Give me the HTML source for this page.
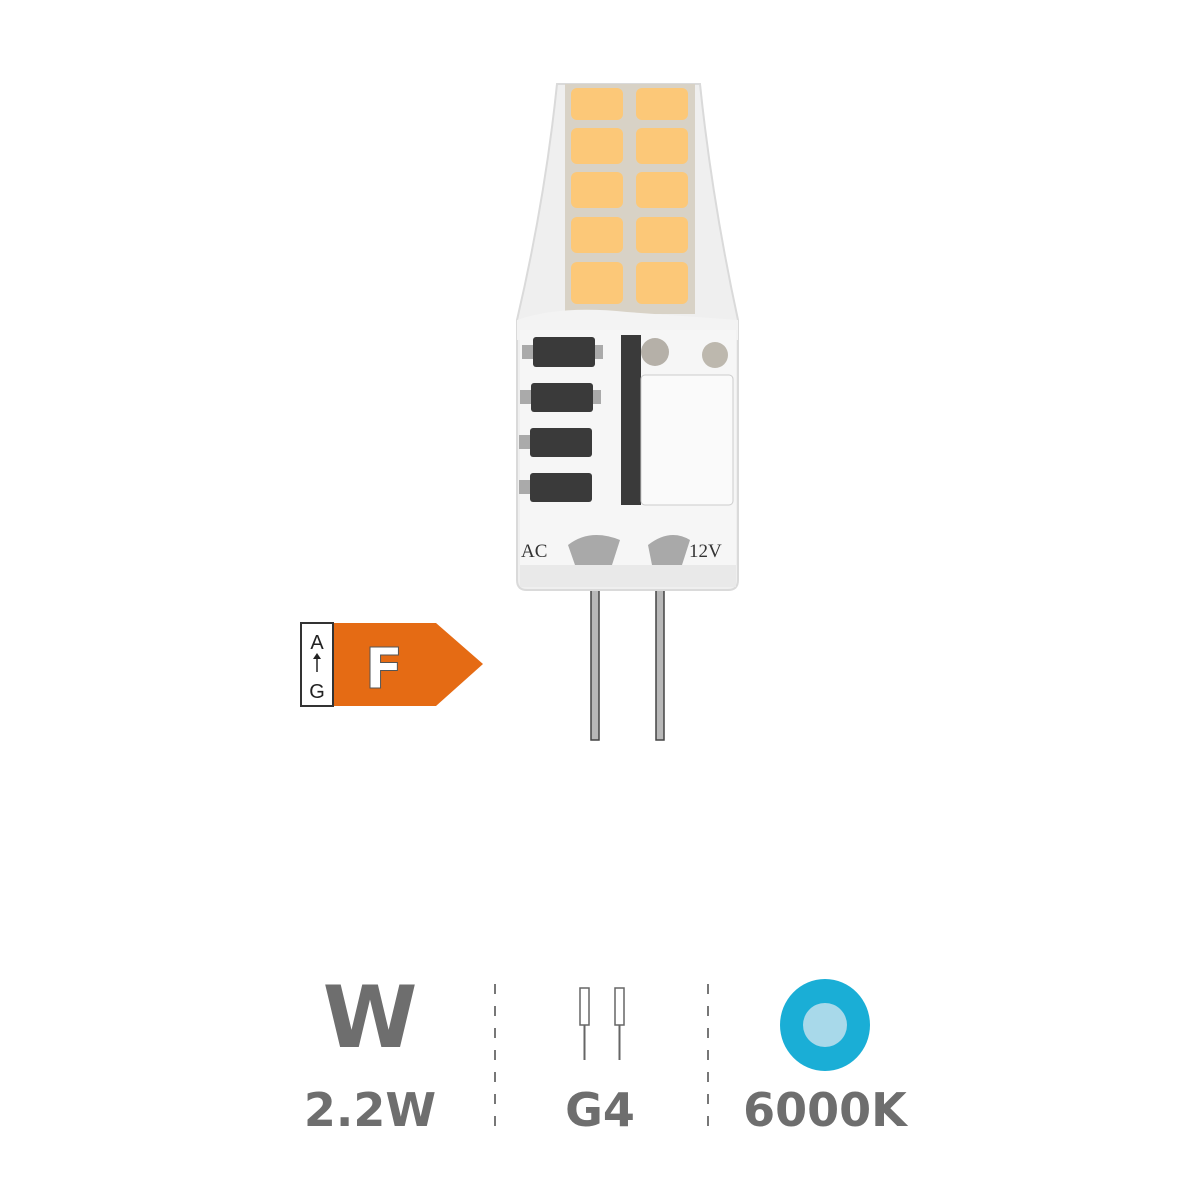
<!DOCTYPE html>
<html><head><style>
html,body{margin:0;padding:0;background:#fff;}
body{width:1200px;height:1200px;position:relative;overflow:hidden;font-family:"DejaVu Sans","Liberation Sans",sans-serif;}
.t{position:absolute;color:#6e6e6e;font-weight:bold;text-align:center;}
</style></head><body>
<svg width="1200" height="1200" style="position:absolute;left:0;top:0">
<rect x="591" y="570" width="8" height="170" fill="#b8b8b8" stroke="#444" stroke-width="1.5"/>
<rect x="656" y="570" width="8" height="170" fill="#b8b8b8" stroke="#444" stroke-width="1.5"/>
<path d="M557,84 L700,84 Q712,200 738,320 L738,580 Q738,590 728,590 L527,590 Q517,590 517,580 L517,320 Q545,200 557,84 Z" fill="#efefef" stroke="#dadada" stroke-width="2"/>
<rect x="565" y="84" width="130" height="230" fill="#d8d2c6"/>
<g fill="#fcc878">
<rect x="571" y="88" width="52" height="32" rx="6"/><rect x="636" y="88" width="52" height="32" rx="6"/>
<rect x="571" y="128" width="52" height="36" rx="6"/><rect x="636" y="128" width="52" height="36" rx="6"/>
<rect x="571" y="172" width="52" height="36" rx="6"/><rect x="636" y="172" width="52" height="36" rx="6"/>
<rect x="571" y="217" width="52" height="36" rx="6"/><rect x="636" y="217" width="52" height="36" rx="6"/>
<rect x="571" y="262" width="52" height="42" rx="6"/><rect x="636" y="262" width="52" height="42" rx="6"/>
</g>
<path d="M517,320 Q560,305 627,312 L738,320 L738,340 L517,340 Z" fill="#f3f3f3"/>
<rect x="520" y="330" width="216" height="250" fill="#f6f6f6"/>
<g fill="#3a3a3a">
<rect x="533" y="337" width="62" height="30" rx="3"/>
<rect x="531" y="383" width="62" height="29" rx="3"/>
<rect x="530" y="428" width="62" height="29" rx="3"/>
<rect x="530" y="473" width="62" height="29" rx="3"/>
<rect x="621" y="335" width="20" height="170"/>
</g>
<g fill="#aaa"><rect x="522" y="345" width="11" height="14"/><rect x="595" y="345" width="8" height="14"/><rect x="520" y="390" width="11" height="14"/><rect x="593" y="390" width="8" height="14"/><rect x="519" y="435" width="11" height="14"/><rect x="519" y="480" width="11" height="14"/></g>
<rect x="641" y="375" width="92" height="130" rx="4" fill="#fafafa" stroke="#ccc"/>
<circle cx="655" cy="352" r="14" fill="#b5b0a8"/><circle cx="715" cy="355" r="13" fill="#bdb8ae"/>
<path d="M568,545 Q590,528 620,540 L612,565 L575,565 Z" fill="#a9a9a9"/>
<path d="M648,545 Q670,528 690,540 L682,565 L652,565 Z" fill="#a9a9a9"/>
<rect x="520" y="565" width="216" height="22" fill="#e9e9e9"/>
<text x="521" y="557" font-family="Liberation Serif,serif" font-size="19" fill="#333">AC</text>
<text x="689" y="557" font-family="Liberation Serif,serif" font-size="19" fill="#333">12V</text>
<path d="M333,623 L436,623 L483,664 L436,706 L333,706 Z" fill="#e56b14"/>
<rect x="301" y="623" width="32" height="83" fill="#fff" stroke="#333" stroke-width="2"/>
<text x="317" y="649" text-anchor="middle" font-family="Liberation Sans,sans-serif" font-size="20" fill="#222">A</text>
<line x1="317" y1="655" x2="317" y2="672" stroke="#222" stroke-width="1.5"/><path d="M313,659 L317,653 L321,659 Z" fill="#222"/>
<text x="317" y="698" text-anchor="middle" font-family="Liberation Sans,sans-serif" font-size="20" fill="#222">G</text>
<text x="384" y="688" text-anchor="middle" font-family="DejaVu Sans,sans-serif" font-weight="bold" font-size="56" fill="#fff" stroke="#555" stroke-width="1">F</text>
<line x1="495" y1="984" x2="495" y2="1138" stroke="#777" stroke-width="2" stroke-dasharray="10,12"/>
<line x1="708" y1="984" x2="708" y2="1138" stroke="#777" stroke-width="2" stroke-dasharray="10,12"/>
<rect x="580" y="988" width="9" height="37" fill="none" stroke="#666" stroke-width="1.5"/>
<rect x="615" y="988" width="9" height="37" fill="none" stroke="#666" stroke-width="1.5"/>
<line x1="584.5" y1="1025" x2="584.5" y2="1060" stroke="#666" stroke-width="2"/>
<line x1="619.5" y1="1025" x2="619.5" y2="1060" stroke="#666" stroke-width="2"/>
<ellipse cx="825" cy="1025" rx="45" ry="46" fill="#1aaed6"/>
<circle cx="825" cy="1025" r="22" fill="#a8d9ea"/>
</svg>
<div class="t" style="left:290px;top:975px;width:160px;font-size:86px;line-height:86px;">W</div>
<div class="t" style="left:280px;top:1085px;width:180px;font-size:46px;line-height:50px;">2.2W</div>
<div class="t" style="left:560px;top:1085px;width:80px;font-size:46px;line-height:50px;">G4</div>
<div class="t" style="left:735px;top:1085px;width:180px;font-size:46px;line-height:50px;">6000K</div>
</body></html>
